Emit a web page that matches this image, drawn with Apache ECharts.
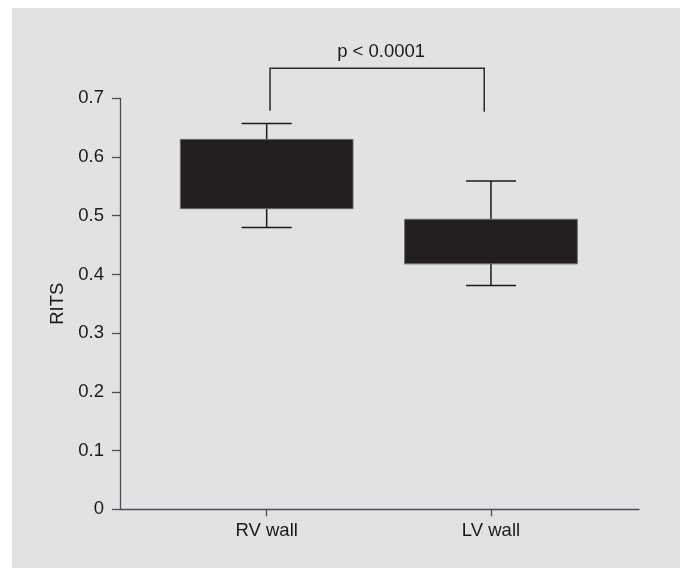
<!DOCTYPE html>
<html>
<head>
<meta charset="utf-8">
<script src="https://cdn.jsdelivr.net/npm/echarts@6/dist/echarts.min.js"></script>
<style>
html,body{margin:0;padding:0;background:#fff;}
#c{width:680px;height:568px;}
</style>
</head>
<body>
<div id="c"></div>
<script>
// Data
var categories = ['RV wall', 'LV wall'];
var catPositions = [1, 2];
var whiskerLow = [0.480, 0.381];
var boxLow = [0.512, 0.418];
var boxHigh = [0.630, 0.494];
var whiskerHigh = [0.657, 0.559];
var yTicks = [0, 0.1, 0.2, 0.3, 0.4, 0.5, 0.6, 0.7];
var bracketX = [1.015, 1.97];
var bracketTop = 0.751;
var bracketBottom = [0.679, 0.677];
var pText = 'p < 0.0001';

var FONT = '"Liberation Sans", Arial, sans-serif';
var FS = 18.5;
var AXIS = '#4d4d4f';

var boxData = categories.map(function (c, i) {
  return [catPositions[i], whiskerLow[i], boxLow[i], boxHigh[i], whiskerHigh[i]];
});

var chart = echarts.init(document.getElementById('c'), null, {renderer: 'canvas'});
chart.setOption({
  backgroundColor: '#ffffff',
  animation: false,
  graphic: [{
    type: 'rect', z: -100, silent: true,
    shape: {x: 12, y: 8, width: 668, height: 560},
    style: {fill: '#e1e2e4'}
  }],
  grid: {left: 120, right: 41, top: 98.3, bottom: 58.7, containLabel: false},
  xAxis: {
    type: 'value',
    min: 0.346, max: 2.66,
    splitLine: {show: false},
    axisLine: {show: true, lineStyle: {color: AXIS, width: 1.3}},
    axisTick: {show: true, customValues: catPositions, length: 7, lineStyle: {color: AXIS, width: 1.3}},
    axisLabel: {
      show: true, customValues: catPositions, margin: 12,
      color: '#1a1a1a', fontSize: FS, fontFamily: FONT,
      formatter: function (v) {
        var i = catPositions.indexOf(Math.round(v));
        return i >= 0 ? categories[i] : '';
      }
    }
  },
  yAxis: {
    type: 'value', min: 0, max: 0.7, interval: 0.1,
    name: 'RITS', nameLocation: 'middle', nameGap: 53,
    nameTextStyle: {color: '#1a1a1a', fontSize: FS, fontFamily: FONT},
    splitLine: {show: false},
    axisLine: {show: true, lineStyle: {color: AXIS, width: 1.3}},
    axisTick: {show: true, length: 8, lineStyle: {color: AXIS, width: 1.3}},
    axisLabel: {
      color: '#1a1a1a', fontSize: FS, fontFamily: FONT, margin: 16,
      formatter: function (v) { return v === 0 ? '0' : v.toFixed(1); }
    }
  },
  series: [{
    type: 'custom',
    data: boxData,
    encode: {x: 0, y: [1, 2, 3, 4]},
    clip: false,
    renderItem: function (params, api) {
      var x = api.value(0);
      var pWL = api.coord([x, api.value(1)]);
      var pBL = api.coord([x, api.value(2)]);
      var pBH = api.coord([x, api.value(3)]);
      var pWH = api.coord([x, api.value(4)]);
      var cx = pWL[0];
      var bw = api.size([0.77, 0])[0];
      var cw = api.size([0.223, 0])[0];
      var ls = {stroke: '#1c1a1b', lineWidth: 1.5};
      return {
        type: 'group',
        children: [
          {type: 'line', shape: {x1: cx, y1: pWH[1], x2: cx, y2: pBH[1]}, style: ls},
          {type: 'line', shape: {x1: cx - cw / 2, y1: pWH[1], x2: cx + cw / 2, y2: pWH[1]}, style: ls},
          {type: 'line', shape: {x1: cx, y1: pWL[1], x2: cx, y2: pBL[1]}, style: ls},
          {type: 'line', shape: {x1: cx - cw / 2, y1: pWL[1], x2: cx + cw / 2, y2: pWL[1]}, style: ls},
          {type: 'rect', shape: {x: cx - bw / 2, y: pBH[1], width: bw, height: pBL[1] - pBH[1]},
           style: {fill: '#231f20', stroke: '#6a6a6c', lineWidth: 1}}
        ]
      };
    }
  }, {
    type: 'custom',
    data: [[bracketX[0], bracketX[1], bracketTop, bracketBottom[0], bracketBottom[1]]],
    encode: {x: [0, 1], y: [2, 3, 4]},
    clip: false,
    renderItem: function (params, api) {
      var pL = api.coord([api.value(0), api.value(2)]);
      var pR = api.coord([api.value(1), api.value(2)]);
      var bL = api.coord([api.value(0), api.value(3)]);
      var bR = api.coord([api.value(1), api.value(4)]);
      return {
        type: 'group',
        children: [
          {type: 'polyline', shape: {points: [bL, pL, pR, bR]},
           style: {stroke: '#2a2a2a', lineWidth: 1.5, fill: null}},
          {type: 'text', x: (pL[0] + pR[0]) / 2 + 4, y: pL[1] - 7,
           style: {text: pText, fill: '#1a1a1a', font: FS + 'px ' + FONT, align: 'center', verticalAlign: 'bottom'}}
        ]
      };
    }
  }]
});
</script>
</body>
</html>
